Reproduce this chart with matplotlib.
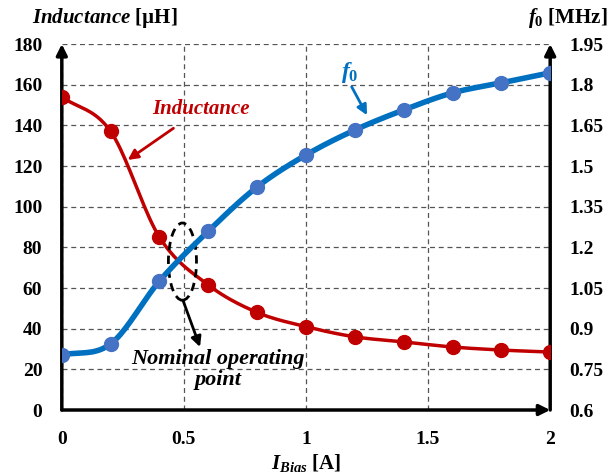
import numpy as np
import matplotlib
matplotlib.use('Agg')
import matplotlib.pyplot as plt
from matplotlib.patches import Ellipse

# valores
corrente = [0, 0.2, 0.4, 0.6, 0.8, 1.0, 1.2, 1.4, 1.6, 1.8, 2.0]
indutancia = [154, 137, 85, 61.5, 48, 41, 36, 33.5, 31, 29.5, 28.5]
f0 = [0.803, 0.844, 1.076, 1.26, 1.423, 1.541, 1.633, 1.707, 1.77, 1.807, 1.844]
ticks_esq = [0, 20, 40, 60, 80, 100, 120, 140, 160, 180]
ticks_dir = [0.6, 0.75, 0.9, 1.05, 1.2, 1.35, 1.5, 1.65, 1.8, 1.95]
ticks_x = [0, 0.5, 1, 1.5, 2]

plt.rcParams['font.family'] = ['Liberation Serif', 'DejaVu Serif']
plt.rcParams['mathtext.fontset'] = 'custom'
plt.rcParams['mathtext.rm'] = 'Liberation Serif:bold'
plt.rcParams['mathtext.it'] = 'Liberation Serif:bold:italic'
plt.rcParams['mathtext.bf'] = 'Liberation Serif:bold'


# curva suave tipo Excel (Catmull-Rom) entre os pontos
def suavizar(x, y, n=20):
    x = np.asarray(x, float)
    y = np.asarray(y, float)
    px = np.concatenate([[2 * x[0] - x[1]], x, [2 * x[-1] - x[-2]]])
    py = np.concatenate([[2 * y[0] - y[1]], y, [2 * y[-1] - y[-2]]])
    xs, ys = [], []
    t = np.linspace(0, 1, n, endpoint=False)
    for i in range(1, len(px) - 2):
        for p, out in ((px, xs), (py, ys)):
            p0, p1, p2, p3 = p[i - 1], p[i], p[i + 1], p[i + 2]
            out.extend(0.5 * (2 * p1 + (-p0 + p2) * t + (2 * p0 - 5 * p1 + 4 * p2 - p3) * t ** 2
                              + (-p0 + 3 * p1 - 3 * p2 + p3) * t ** 3))
    xs.append(x[-1])
    ys.append(y[-1])
    return np.array(xs), np.array(ys)


fig = plt.figure(figsize=(6.12, 4.74), dpi=100)
ax = fig.add_axes([0.101, 0.135, 0.798, 0.772])
ax2 = ax.twinx()

vermelho = '#C00000'
azul = '#0070C0'

xs, ys = suavizar(corrente, indutancia)
ax.plot(xs, ys, color=vermelho, lw=2.5, zorder=3)
ax.plot(corrente, indutancia, 'o', color=vermelho, ms=10, zorder=4)

xs, ys = suavizar(corrente, f0)
ax2.plot(xs, ys, color=azul, lw=4, zorder=3)
ax2.plot(corrente, f0, 'o', color='#4472C4', mec='#4472C4', ms=10, zorder=4)

ax.set_xlim(0, 2)
ax.set_ylim(0, 180)
ax2.set_ylim(0.6, 1.95)
ax.set_xticks(ticks_x)
ax.set_xticklabels(['0', '0.5', '1', '1.5', '2'])
ax.set_yticks(ticks_esq)
ax2.set_yticks(ticks_dir)
ax2.set_yticklabels(['0.6', '0.75', '0.9', '1.05', '1.2', '1.35', '1.5', '1.65', '1.8', '1.95'])

for a in (ax, ax2):
    for s in a.spines.values():
        s.set_visible(False)
    a.tick_params(length=0, labelsize=14)
    for lbl in a.get_xticklabels() + a.get_yticklabels():
        lbl.set_fontweight('bold')
ax.tick_params(axis='y', pad=14)
ax2.tick_params(axis='y', pad=14)
ax.tick_params(axis='x', pad=15)

ax.grid(True, color='#555555', ls=(0, (4, 3)), lw=0.9)
ax.set_axisbelow(True)

# eixos com setas
seta = dict(arrowstyle='-|>', color='black', lw=2.5, mutation_scale=16, shrinkA=0, shrinkB=0)
ax.annotate('', xy=(0, 180), xytext=(0, 0), arrowprops=seta, annotation_clip=False)
ax.annotate('', xy=(2, 180), xytext=(2, 0), arrowprops=seta, annotation_clip=False)
ax.annotate('', xy=(2, 0), xytext=(0, 0), arrowprops=seta, annotation_clip=False)

# títulos dos eixos
fig.text(0.052, 0.962, r'$\mathit{Inductance}$ [µH]', fontsize=15, fontweight='bold', va='center')
fig.text(0.862, 0.962, r'$\mathit{f}_{\mathrm{0}}$ [MHz]', fontsize=15, fontweight='bold', va='center')
ax.set_xlabel(r'$\mathit{I}_{\mathit{Bias}}$ [A]', fontsize=15, fontweight='bold', labelpad=3)

# anotações
ax.annotate('Inductance', xy=(0.27, 123), xytext=(0.57, 148), color=vermelho,
            fontsize=15, fontweight='bold', style='italic', ha='center', va='center',
            arrowprops=dict(arrowstyle='-|>', color=vermelho, lw=2, mutation_scale=15,
                            shrinkA=8, shrinkB=0))
ax.text(1.18, 166, r'$\mathit{f}_{\mathrm{0}}$', color=azul, fontsize=17, ha='center', va='center')
ax.annotate('', xy=(1.25, 145), xytext=(1.187, 159),
            arrowprops=dict(arrowstyle='-|>', color=azul, lw=2, mutation_scale=15,
                            shrinkA=0, shrinkB=0))

ax.add_patch(Ellipse((0.494, 73), 0.115, 38, fill=False, ls=(0, (3, 2)), lw=2,
                     color='black', zorder=5))
ax.annotate('', xy=(0.566, 31), xytext=(0.496, 54),
            arrowprops=dict(arrowstyle='-|>', color='black', lw=2, mutation_scale=15,
                            shrinkA=0, shrinkB=0))
ax.text(0.64, 20, 'Nominal operating\npoint', fontsize=16, fontweight='bold',
        style='italic', ha='center', va='center', linespacing=1.05)

plt.savefig('out.png', dpi=100)
